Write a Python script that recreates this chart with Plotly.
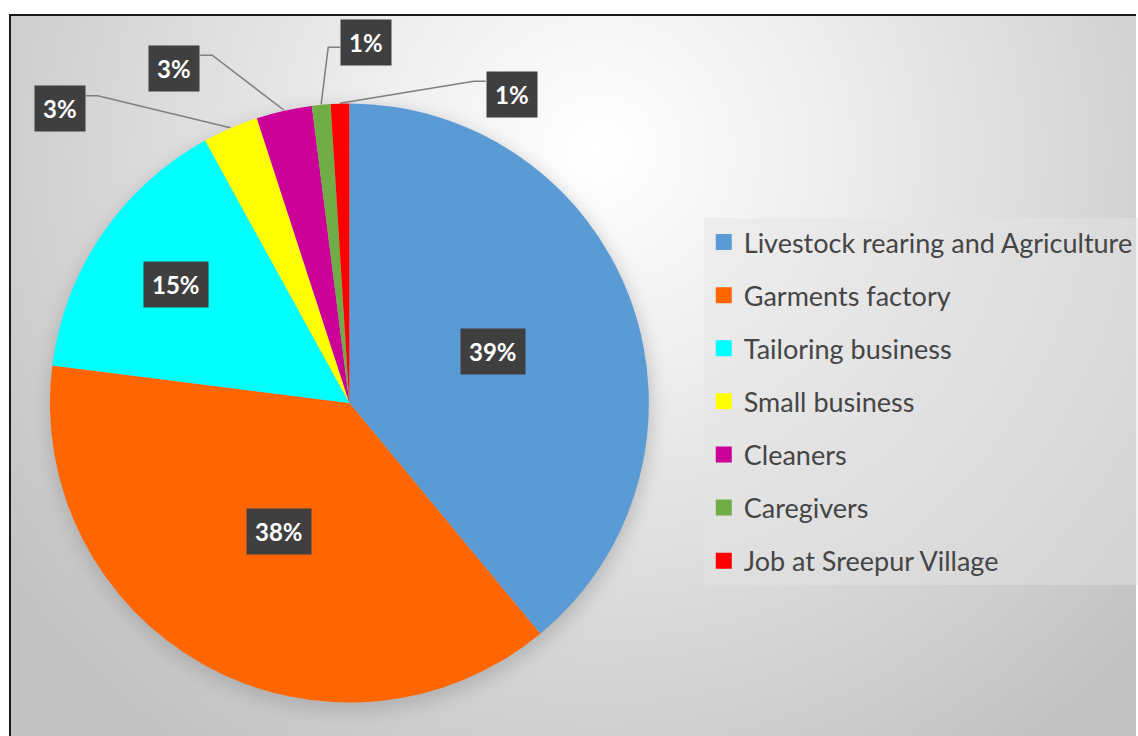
import base64
import numpy as np
import plotly.graph_objects as go

# ---------------- data ----------------
categories = [
    "Livestock rearing and Agriculture",
    "Garments factory",
    "Tailoring business",
    "Small business",
    "Cleaners",
    "Caregivers",
    "Job at Sreepur Village",
]
values = [39, 38, 15, 3, 3, 1, 1]
colors = ["#5B9BD5", "#FF6600", "#00FFFF", "#FFFF00", "#CC0099", "#70AD47", "#FF0000"]

# ---------------- layout parameters (pixels) ----------------
W, H = 1138, 736
CX, CY, R = 350, 403, 300          # pie centre / radius on the page
# label placement: ("in", radius fraction) or ("out", dx, dy offset of the box from the slice edge)
label_place = [
    ("in", 0.51),
    ("in", 0.49),
    ("in", 0.70),
    ("out", -171, -19),
    ("out", -110, -42),
    ("out", 45, -62),
    ("out", 172, -9),
]
BOX_HALF_W = 26


def px(x):
    return x / W


def py(y):
    return 1 - y / H


# ---------------- background (gradient frame + pie shadow) ----------------
svg = f'''<svg xmlns="http://www.w3.org/2000/svg" width="{W}" height="{H}" viewBox="0 0 {W} {H}">
<defs>
<radialGradient id="g" gradientUnits="userSpaceOnUse" cx="600" cy="150" r="730">
<stop offset="0" stop-color="#ffffff"/>
<stop offset="0.3" stop-color="#efefef"/>
<stop offset="1" stop-color="#c2c2c2"/>
</radialGradient>
<filter id="b" x="-20%" y="-20%" width="140%" height="140%"><feGaussianBlur stdDeviation="9"/></filter>
</defs>
<rect x="0" y="0" width="{W}" height="{H}" fill="#ffffff"/>
<rect x="10" y="15" width="{W + 20}" height="{H + 20}" fill="url(#g)" stroke="#1a1a1a" stroke-width="2"/>
<circle cx="{CX}" cy="{CY + 7}" r="{R + 2}" fill="#9a9a9a" opacity="0.55" filter="url(#b)"/>
</svg>'''
bg_uri = "data:image/svg+xml;base64," + base64.b64encode(svg.encode()).decode()

fig = go.Figure()

fig.add_trace(go.Pie(
    labels=categories,
    values=values,
    marker=dict(colors=colors, line=dict(width=0)),
    sort=False,
    direction="clockwise",
    rotation=0,
    textinfo="none",
    hoverinfo="label+percent",
    showlegend=False,
    domain=dict(x=[px(CX - R), px(CX + R)], y=[py(CY + R), py(CY - R)]),
))

# legend entries (one group per category so the gap between entries can be set)
for c, col in zip(categories, colors):
    fig.add_trace(go.Scatter(
        x=[None], y=[None], mode="markers",
        marker=dict(symbol="square", size=16, color=col),
        name=c, legendgroup=c, showlegend=True, hoverinfo="skip",
    ))

# ---------------- data labels ----------------
total = float(sum(values))
cum = np.cumsum(values)
mid_deg = (cum - np.array(values) / 2.0) / total * 360.0

annotations = []
shapes = []
for v, ang, place in zip(values, mid_deg, label_place):
    t = np.deg2rad(ang)
    txt = f"{v / total * 100:.0f}%"
    if place[0] == "in":
        f = place[1]
        bx = CX + R * f * np.sin(t)
        by = CY - R * f * np.cos(t)
    else:
        ex = CX + R * np.sin(t)
        ey = CY - R * np.cos(t)
        bx = ex + place[1]
        by = ey + place[2]
        if place[1] < 0:
            side = bx + BOX_HALF_W
            elbow = side + 12
            ly = by - 13
        else:
            side = bx - BOX_HALF_W
            elbow = side - 12
            ly = by - 13 if place[2] > -50 else by + 5
        shapes.append(dict(
            type="path", xref="paper", yref="paper",
            path=f"M {px(ex)},{py(ey)} L {px(elbow)},{py(ly)} L {px(side)},{py(ly)}",
            line=dict(color="#7f7f7f", width=1.5),
            layer="below",
        ))
    annotations.append(dict(
        x=px(bx), y=py(by), xref="paper", yref="paper",
        text=txt, showarrow=False,
        font=dict(family="Lato", size=24, color="#ffffff", weight="bold"),
        bgcolor="#3f3f3f", borderpad=8,
        xanchor="center", yanchor="middle",
    ))

fig.update_layout(
    width=W, height=H,
    margin=dict(l=0, r=0, t=0, b=0),
    paper_bgcolor="#ffffff",
    plot_bgcolor="rgba(0,0,0,0)",
    xaxis=dict(visible=False),
    yaxis=dict(visible=False),
    images=[dict(source=bg_uri, xref="paper", yref="paper", x=0, y=1,
                 sizex=1, sizey=1, sizing="stretch", layer="below",
                 xanchor="left", yanchor="top")],
    shapes=shapes,
    annotations=annotations,
    legend=dict(
        x=px(705), y=py(218), xanchor="left", yanchor="top",
        bgcolor="rgba(228,228,228,0.45)",
        font=dict(family="Lato", size=27, color="#454545"),
        tracegroupgap=15,
        traceorder="grouped",
        itemclick=False, itemdoubleclick=False,
    ),
    showlegend=True,
)

fig.write_html(
    "out.html",
    config={"displayModeBar": False},
    post_script="document.body.style.margin='0';document.body.style.overflow='hidden';",
)
